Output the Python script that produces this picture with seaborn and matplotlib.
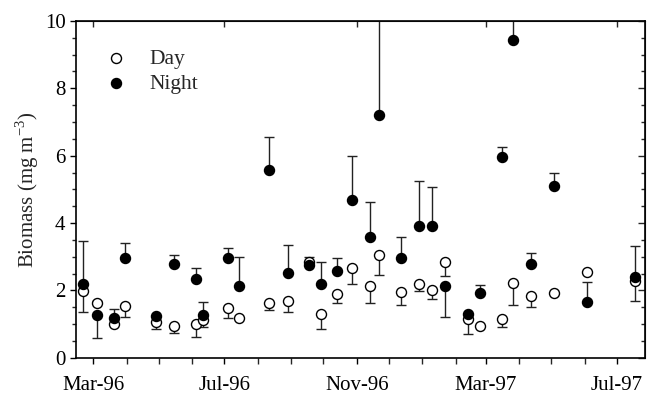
import numpy as np
import pandas as pd
import matplotlib
matplotlib.use("Agg")
import matplotlib.pyplot as plt
import matplotlib.dates as mdates
from matplotlib.ticker import MultipleLocator
import seaborn as sns

# ── Data ─────────────────────────────────────────────────────────
dates = pd.to_datetime([
    "1996-02-21", "1996-03-05", "1996-03-20", "1996-03-31", "1996-04-28",
    "1996-05-15", "1996-06-05", "1996-06-11", "1996-07-04", "1996-07-15",
    "1996-08-11", "1996-08-29", "1996-09-18", "1996-09-29", "1996-10-14",
    "1996-10-28", "1996-11-13", "1996-11-22", "1996-12-12", "1996-12-29",
    "1997-01-10", "1997-01-22", "1997-02-12", "1997-02-24", "1997-03-16",
    "1997-03-26", "1997-04-12", "1997-05-03", "1997-06-03", "1997-07-18",
])
day_biomass = [1.97, 1.62, 1.00, 1.55, 1.05, 0.96, 1.00, 1.11, 1.47, 1.17,
               1.64, 1.69, 2.85, 1.30, 1.89, 2.68, 2.14, 3.04, 1.95, 2.20,
               2.02, 2.84, 1.16, 0.95, 1.16, 2.22, 1.84, 1.94, 2.55, 2.29]
# end point of the (one-sided) error bar, nan = no bar
day_bar_end = [1.37, 1.68, np.nan, 1.21, 0.86, 0.75, 0.61, 0.91, 1.18, np.nan,
               1.42, 1.37, np.nan, 0.86, 1.64, 2.20, 1.64, 2.46, 1.58, 1.97,
               1.74, 2.44, 0.71, np.nan, 0.91, 1.57, 1.52, np.nan, np.nan, 1.70]
night_biomass = [2.19, 1.28, 1.18, 2.95, 1.23, 2.78, 2.34, 1.28, 2.96, 2.14,
                 5.58, 2.53, 2.76, 2.20, 2.57, 4.69, 3.60, 7.21, 2.96, 3.90,
                 3.90, 2.14, 1.31, 1.94, 5.97, 9.42, 2.78, 5.11, 1.67, 2.41]
night_bar_end = [3.48, 0.58, 1.45, 3.40, np.nan, 3.04, 2.67, 1.65, 3.25, 2.99,
                 6.57, 3.35, 3.00, 2.86, 2.97, 5.99, 4.62, 11.0, 3.58, 5.25,
                 5.08, 1.20, np.nan, 2.17, 6.25, 10.8, 3.10, 5.50, 2.26, 3.33]

df = pd.DataFrame({
    "date": list(dates) * 2,
    "biomass": day_biomass + night_biomass,
    "bar_end": day_bar_end + night_bar_end,
    "period": ["Day"] * len(dates) + ["Night"] * len(dates),
})

def split_err(sub):
    e = (sub["bar_end"] - sub["biomass"]).fillna(0).to_numpy()
    return [np.clip(-e, 0, None), np.clip(e, 0, None)]

# ── Figure ───────────────────────────────────────────────────────
sns.set_style("ticks")
plt.rcParams["font.family"] = ["Liberation Serif", "DejaVu Serif"]
plt.rcParams["mathtext.fontset"] = "custom"
plt.rcParams["mathtext.rm"] = "Liberation Serif"

fig = plt.figure(figsize=(6.49, 3.95), dpi=100)
ax = fig.add_axes([0.117, 0.094, 0.877, 0.853])

for per in ["Day", "Night"]:
    sub = df[df["period"] == per]
    ax.errorbar(sub["date"], sub["biomass"], yerr=split_err(sub), fmt="none",
                ecolor="#222222", elinewidth=1.0, capsize=3.8, capthick=1.0,
                zorder=2)

sub = df[df["period"] == "Day"]
sns.scatterplot(data=sub, x="date", y="biomass", ax=ax, marker="o", s=52,
                facecolor="white", edgecolor="black", linewidth=1.0,
                label="Day", zorder=3)
sub = df[df["period"] == "Night"]
sns.scatterplot(data=sub, x="date", y="biomass", ax=ax, marker="o", s=52,
                color="black", edgecolor="black", linewidth=1.0,
                label="Night", zorder=4)

ax.set_xlim(pd.Timestamp("1996-02-14"), pd.Timestamp("1997-07-27"))
ax.set_ylim(0, 10)
ax.set_xlabel("")
ax.set_ylabel("Biomass (mg m$^{-3}$)", fontsize=15, labelpad=3)

ax.xaxis.set_major_locator(mdates.MonthLocator(bymonth=[3, 7, 11]))
ax.xaxis.set_minor_locator(mdates.MonthLocator())
ax.xaxis.set_major_formatter(mdates.DateFormatter("%b-%y"))
ax.yaxis.set_major_locator(MultipleLocator(2))
ax.yaxis.set_minor_locator(MultipleLocator(0.5))
ax.tick_params(axis="both", which="major", direction="out", length=4,
               width=1, labelsize=15, colors="black")
ax.tick_params(axis="x", which="major", pad=9)
ax.tick_params(axis="both", which="minor", direction="out", length=4, width=1)
ax.tick_params(axis="y", which="minor", length=3)

for s in ax.spines.values():
    s.set_visible(True)
    s.set_linewidth(1.2)
    s.set_color("black")

# mirrored inward ticks on top and right
top = ax.secondary_xaxis("top")
top.xaxis.set_major_locator(mdates.MonthLocator(bymonth=[3, 7, 11]))
top.tick_params(direction="in", length=4, width=1, labeltop=False)
right = ax.secondary_yaxis("right")
right.yaxis.set_major_locator(MultipleLocator(2))
right.yaxis.set_minor_locator(MultipleLocator(0.5))
right.tick_params(which="major", direction="in", length=5, width=1, labelright=False)
right.tick_params(which="minor", direction="in", length=3, width=1)

leg = ax.legend(loc="upper left", bbox_to_anchor=(0.01, 0.955), frameon=False,
                fontsize=15.5, handletextpad=0.55, labelspacing=0.22,
                borderaxespad=0.2)

plt.savefig("out.png", dpi=100)
plt.close()
